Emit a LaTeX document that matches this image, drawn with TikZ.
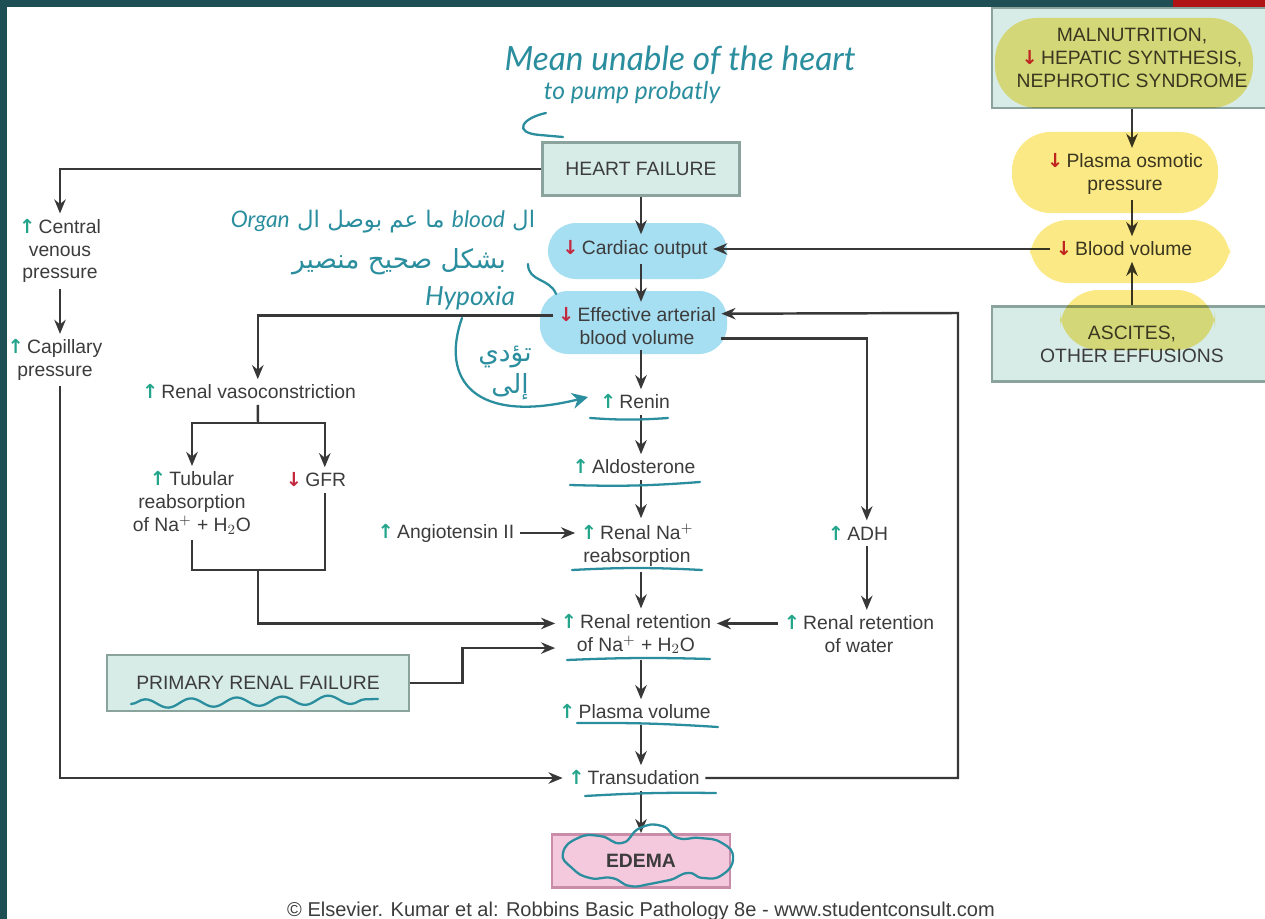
\documentclass[tikz,border=0pt]{standalone}
\usepackage{fontspec}
\setmainfont{Liberation Sans}
\newfontfamily\arrowfont{DejaVu Sans}
\newfontfamily\handfont{Lato}
\newfontfamily\arabicfont[Script=Arabic]{DejaVu Sans}
\TeXXeTstate=1
\usetikzlibrary{positioning, arrows.meta, calc, decorations.pathmorphing}
\definecolor{framegreen}{HTML}{1E4F55}
\definecolor{framered}{HTML}{B01515}
\definecolor{boxmint}{HTML}{D7ECE7}
\definecolor{boxedge}{HTML}{8AA39D}
\definecolor{edemapink}{HTML}{F4C8DD}
\definecolor{edemaedge}{HTML}{C98DA9}
\definecolor{linegray}{HTML}{383838}
\definecolor{textgray}{HTML}{3C3C3C}
\definecolor{upgreen}{HTML}{23A58C}
\definecolor{downred}{HTML}{C3283E}
\definecolor{penteal}{HTML}{2A8E9E}
\definecolor{markblue}{HTML}{A6DEF2}
\definecolor{markyellow}{HTML}{FBE985}
\newcommand{\incr}{{\arrowfont\bfseries\textcolor{upgreen}{↑}}\,}
\newcommand{\decr}{{\arrowfont\bfseries\textcolor{downred}{↓}}\,}

\begin{document}
\begin{tikzpicture}[x=0.02cm, y=-0.02cm,
  >={Stealth[length=8pt, width=6.5pt]}, font=\fontsize{11}{13}\selectfont,
  box/.style={draw=boxedge, fill=boxmint, line width=1.6pt, align=center, text=textgray},
  lbl/.style={align=center, text=textgray, inner sep=3pt},
  arr/.style={->, line width=1.4pt, linegray},
  ln/.style={line width=1.4pt, linegray},
  pen/.style={penteal, line width=1.3pt, line cap=round},
  hand/.style={penteal, font=\handfont\itshape\fontsize{19}{21}\selectfont},
  arab/.style={penteal, font=\arabicfont\fontsize{15}{17}\selectfont},
  blob/.style={rounded corners=16pt}
]
\useasboundingbox (0,0) rectangle (1265,919);
\fill[white] (0,0) rectangle (1265,919);

\fill[markblue, blob] (548,223) rectangle (727,279);
\fill[markblue, blob] (540,291) rectangle (727,354);

\node[box, minimum width=3.94cm, minimum height=1.06cm] (hf) at (641,169) {HEART FAILURE};
\node[lbl] (co) at (635,249) {\decr Cardiac output};
\node[lbl] (eabv) at (637,326) {\decr Effective arterial\\blood volume};
\node[lbl] (cvp) at (60,251) {\incr Central\\venous\\pressure};
\node[lbl] (cap) at (55,360) {\incr Capillary\\pressure};
\node[lbl] (rvc) at (249,392) {\incr Renal vasoconstriction};
\node[lbl] (tub) at (192,503) {\incr Tubular\\reabsorption\\of Na$^+$ + H$_2$O};
\node[lbl] (gfr) at (316,480) {\decr GFR};
\node[lbl] (renin) at (635,402) {\incr Renin};
\node[lbl] (aldo) at (634,467) {\incr Aldosterone};
\node[lbl] (ang) at (446,533) {\incr Angiotensin II};
\node[lbl] (rna) at (637,545) {\incr Renal Na$^+$\\reabsorption};
\node[lbl] (rret) at (636,634) {\incr Renal retention\\of Na$^+$ + H$_2$O};
\node[lbl] (adh) at (858,533) {\incr ADH};
\node[lbl] (rwat) at (859,634) {\incr Renal retention\\of water};
\node[box, minimum width=6.04cm, minimum height=1.12cm] (prf) at (258,683) {PRIMARY RENAL FAILURE};
\node[lbl] (plasma) at (635,712) {\incr Plasma volume};
\node[lbl] (trans) at (634,778) {\incr Transudation};
\node[box, draw=edemaedge, fill=edemapink, minimum width=3.56cm, minimum height=1.06cm] (edema) at (641,861) {\textbf{EDEMA}};
\node[box, minimum width=5.6cm, minimum height=2cm] (mal) at (1132,58) {MALNUTRITION,\\\decr HEPATIC SYNTHESIS,\\NEPHROTIC SYNDROME};
\node[lbl] (pop) at (1125,174) {\decr Plasma osmotic\\pressure};
\node[lbl] (bv) at (1124,249) {\decr Blood volume};
\node[box, minimum width=5.6cm, minimum height=1.5cm] (asc) at (1132,344) {ASCITES,\\OTHER EFFUSIONS};
\node[text=textgray, font=\fontsize{11.4}{13}\selectfont] (credit) at (641,911) {© Elsevier. Kumar et al: Robbins Basic Pathology 8e - www.studentconsult.com};

\coordinate (split) at (258,423);
\coordinate (merge) at (258,570);
\coordinate (loop) at (958,313);

\draw[arr] (hf.west) -| (cvp.north);
\draw[arr] (cvp.south) -- (cvp.south |- cap.north);
\draw[arr] (cvp.south |- cap.south) |- (trans.west);
\draw[arr] (hf.south) -- (hf.south |- co.north);
\draw[arr] (co.south -| hf) -- (eabv.north -| hf);
\draw[arr] (eabv.south -| hf) -- (renin.north -| hf);
\draw[arr] (renin.south -| hf) -- (aldo.north -| hf);
\draw[arr] (aldo.south -| hf) -- (rna.north -| hf);
\draw[arr] (rna.south -| hf) -- (rret.north -| hf);
\draw[arr] (rret.south -| hf) -- (plasma.north -| hf);
\draw[arr] (plasma.south -| hf) -- (trans.north -| hf);
\draw[arr] (trans.south -| hf) -- (edema);
\draw[arr] (bv.west) -- (co.east);
\draw[arr] ([yshift=6pt]eabv.west) -| ([xshift=5pt]rvc.north);
\draw[ln] ([xshift=5pt]rvc.south) -- (split);
\draw[arr] (split) -| (tub.north);
\draw[arr] (split) -| ([xshift=5pt]gfr.north);
\draw[ln] (tub.south) |- ([xshift=5pt]gfr.south |- merge) -- ([xshift=5pt]gfr.south);
\draw[arr] (merge) |- ([yshift=6pt]rret.west);
\draw[arr] (prf.east) -- ++(52,0) |- ([yshift=-8pt]rret.west);
\draw[arr] (ang) -- (ang -| rna.west);
\draw[arr] ([yshift=-7pt]eabv.east) -| ([xshift=5pt]adh.north);
\draw[arr] ([xshift=5pt]adh.south) -- ([xshift=5pt]adh.south |- rwat.north);
\draw[arr] ([yshift=6pt]rwat.west) -- ([yshift=6pt]rret.east);
\draw[arr] (trans.east) -| (loop) -- ([yshift=7pt]eabv.east);
\draw[arr] (mal) -- (mal |- pop.north);
\draw[arr] (mal |- pop.south) -- (mal |- bv.north);
\draw[arr] (asc) -- (asc |- bv.south);

\begin{scope}[blend mode=multiply]
\fill[markyellow, rounded corners=24pt] (995,18) rectangle (1253,108);
\fill[markyellow, rounded corners=22pt] (1012,132) rectangle (1218,213);
\fill[markyellow, rounded corners=22pt] (1030,220) rectangle (1230,283);
\fill[markyellow, rounded corners=22pt] (1060,290) rectangle (1215,350);
\end{scope}

\node[hand] (note0) at (680,60) {Mean unable of the heart};
\node[hand, font=\handfont\itshape\fontsize{14}{16}\selectfont] (note0b) at (632,93) {to pump probatly};
\node[arab, font=\arabicfont\fontsize{13}{15}\selectfont] (note1) at (383,222) {\beginR ال {\handfont\itshape blood} ما عم بوصل ال {\handfont\itshape Organ}\endR};
\node[arab] (note2) at (399,262) {\beginR بشكل صحيح منصير\endR};
\node[hand, font=\handfont\itshape\fontsize{15}{17}\selectfont] (note3) at (470,298) {Hypoxia};
\node[arab] (note4) at (505,357) {\beginR تؤدي\endR};
\node[arab] (note5) at (510,387) {\beginR إلى\endR};

\draw[pen] (546,113) .. controls (522,118) and (512,133) .. (540,135) -- (563,137);
\draw[pen] (528,264) .. controls (528,282) and (550,278) .. (556,294);
\draw[pen, -{Stealth[length=9pt, width=9pt]}] (462,318) .. controls (440,380) and (475,425) .. (588,397);
\draw[pen] (590,418) to[bend right=4] (668,418);
\draw[pen] (570,485) to[bend right=3] (700,482);
\draw[pen] (572,570) to[bend left=3] (702,570);
\draw[pen] (567,660) to[bend left=2] (710,659);
\draw[pen] (577,723) to[bend left=2] (718,727);
\draw[pen] (585,796) to[bend left=2] (716,793);
\draw[pen, decorate, decoration={snake, amplitude=2.5pt, segment length=26pt}] (131,704) -- (378,699);
\draw[pen] plot[smooth cycle, tension=0.9] coordinates {(563,853) (578,838) (600,836) (622,843) (640,828) (662,826) (678,838) (700,838) (722,843) (733,858) (722,875) (703,878) (688,873) (670,880) (650,884) (630,886) (612,878) (590,878) (572,868)};

\fill[framegreen] (0,0) rectangle (1173,7);
\fill[framered] (1173,0) rectangle (1265,7);
\fill[framegreen] (0,0) rectangle (7,919);
\end{tikzpicture}
\end{document}
